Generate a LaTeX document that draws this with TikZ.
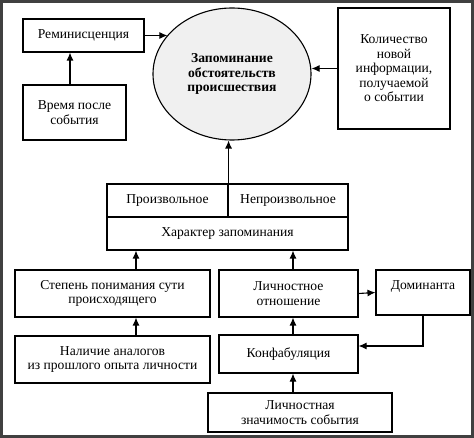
\documentclass[tikz,border=0pt]{standalone}
\usepackage{fontspec}
\setmainfont{Liberation Serif}
\usetikzlibrary{arrows.meta, shapes.geometric}
\tikzset{
    box/.style={draw, line width=1.1pt, align=center, inner sep=0pt, font=\fontsize{13.6}{14.5}\selectfont},
    arr/.style={line width=1.1pt, -{Latex[length=8pt,width=7pt]}}
}

\begin{document}
\begin{tikzpicture}[x=1pt, y=-1pt]
    \useasboundingbox (0, 0) rectangle (474, 438);
    \draw[line width=3pt, gray!50!black] (1.5, 1.5) rectangle (472.5, 436.5);
    \node[box, ellipse, fill=gray!12, minimum width=158, minimum height=132, font=\fontsize{13.6}{14.5}\selectfont\bfseries] (memo) at (232, 74) {Запоминание\\обстоятельств\\происшествия};
    \node[box, minimum width=121, minimum height=33] (remin) at (83.5, 35.5) {Реминисценция};
    \node[box, minimum width=103, minimum height=55] (time) at (74.5, 112.5) {Время после\\события};
    \node[box, minimum width=112, minimum height=121] (amount) at (394, 68.5) {Количество\\новой\\информации,\\получаемой\\о событии};
    \node[box, minimum width=121, minimum height=33] (vol) at (167.5, 200.5) {Произвольное};
    \node[box, minimum width=120, minimum height=33] (invol) at (288, 200.5) {Непроизвольное};
    \node[box, minimum width=241, minimum height=33] (char) at (227.5, 233.5) {Характер запоминания};
    \node[box, minimum width=195, minimum height=47] (degree) at (112.5, 293.5) {Степень понимания сути\\происходящего};
    \node[box, minimum width=139, minimum height=47] (attitude) at (288.5, 293.5) {Личностное\\отношение};
    \node[box, minimum width=94, minimum height=45, text height=8pt, text depth=14pt] (domin) at (423, 292.5) {Доминанта};
    \node[box, minimum width=195, minimum height=47] (analog) at (112.5, 359.5) {Наличие аналогов\\из прошлого опыта личности};
    \node[box, minimum width=139, minimum height=38] (confab) at (288.5, 354) {Конфабуляция};
    \node[box, minimum width=184, minimum height=39] (signif) at (300, 412.5) {Личностная\\значимость события};
    \coordinate (lx) at (136, 0);
    \coordinate (rx) at (293, 0);
    \coordinate (tx) at (70, 0);
    \draw[arr] (time.north -| tx) -- (remin.south -| tx);
    \draw[arr] (remin.east) -- (remin.east -| memo.149);
    \draw[arr] (amount.west) -- (amount.west -| memo.east);
    \draw[arr] (vol.north east) -- (vol.north east |- memo.south);
    \draw[arr] (degree.north -| lx) -- (char.south -| lx);
    \draw[arr] (attitude.north -| rx) -- (char.south -| rx);
    \draw[arr] (analog.north -| lx) -- (degree.south -| lx);
    \draw[arr] (confab.north -| rx) -- (attitude.south -| rx);
    \draw[arr] (signif.north -| rx) -- (confab.south -| rx);
    \draw[arr] (attitude.east) -- (domin.west);
    \draw[arr] (domin.south) |- ([yshift=8pt]confab.east);
\end{tikzpicture}
\end{document}
